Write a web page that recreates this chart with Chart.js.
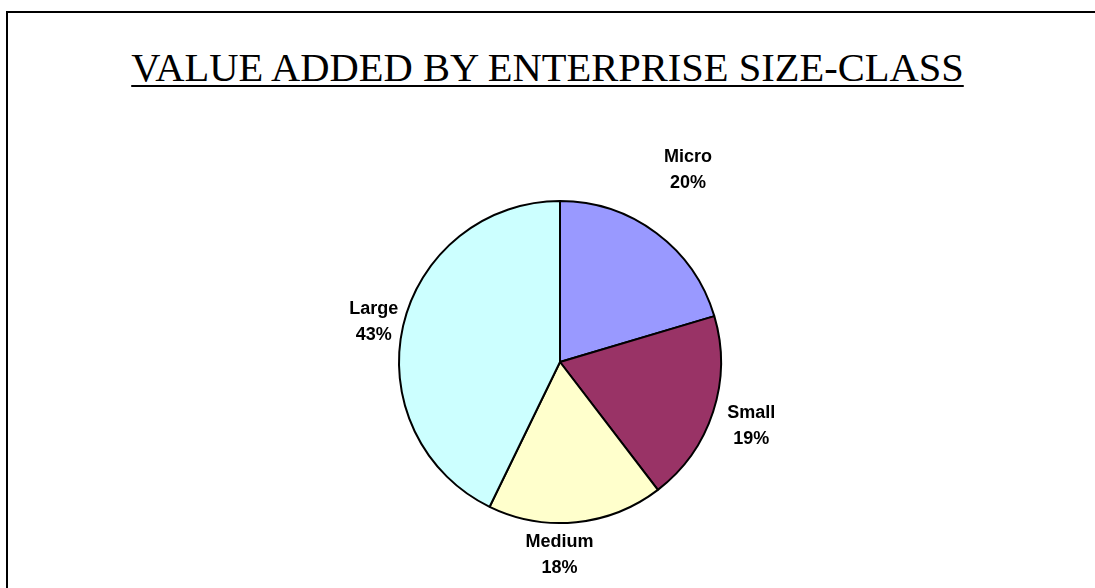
<!DOCTYPE html>
<html>
<head>
<meta charset="utf-8">
<script src="https://cdn.jsdelivr.net/npm/chart.js@4/dist/chart.umd.min.js"></script>
<style>
  html, body { margin: 0; padding: 0; background: #fff; overflow: hidden; }
  #wrap { position: relative; width: 1095px; height: 588px; }
  #frame { position: absolute; left: 6px; top: 11px; width: 1200px; height: 700px;
           border-left: 2px solid #000; border-top: 2px solid #000; }
  #title { position: absolute; left: 0; width: 1095px; top: 44px; text-align: center;
           font-family: "Liberation Serif", "Times New Roman", serif; font-size: 40.5px;
           text-decoration: underline; text-decoration-thickness: 2px; text-underline-offset: 4px; }
  canvas { position: absolute; left: 0; top: 0; }
</style>
</head>
<body>
<div id="wrap">
  <div id="frame"></div>
  <div id="title">VALUE ADDED BY ENTERPRISE SIZE-CLASS</div>
  <canvas id="pie" width="1095" height="588"></canvas>
</div>
<script>
const sizeClasses = ["Micro", "Small", "Medium", "Large"];
const valueShare = [20.4, 19.2, 17.6, 42.8];
const sliceColors = ["#9999FF", "#993366", "#FFFFCC", "#CCFFFF"];

// label placement: distance outside the rim, then a small nudge
const labelGap = [68, 40, 33, 30];
const labelNudge = [[-9, -8], [0, 2], [-20, 0], [0, 3]];

const outsideLabels = {
  id: "outsideLabels",
  afterDatasetsDraw(chart) {
    const ctx = chart.ctx;
    const meta = chart.getDatasetMeta(0);
    const total = valueShare.reduce((a, b) => a + b, 0);
    ctx.save();
    ctx.font = "bold 18px 'Liberation Sans', Arial, sans-serif";
    ctx.fillStyle = "#000";
    ctx.textAlign = "center";
    ctx.textBaseline = "middle";
    meta.data.forEach((arc, i) => {
      const p = arc.getProps(["x", "y", "startAngle", "endAngle", "outerRadius"], true);
      const mid = (p.startAngle + p.endAngle) / 2;
      const r = p.outerRadius + labelGap[i];
      const cx = p.x + Math.cos(mid) * r + labelNudge[i][0];
      const cy = p.y + Math.sin(mid) * r + labelNudge[i][1];
      const pct = Math.round(valueShare[i] / total * 100) + "%";
      ctx.fillText(sizeClasses[i], cx, cy - 13);
      ctx.fillText(pct, cx, cy + 13);
    });
    ctx.restore();
  }
};

new Chart(document.getElementById("pie").getContext("2d"), {
  type: "pie",
  data: {
    labels: sizeClasses,
    datasets: [{
      data: valueShare,
      backgroundColor: sliceColors,
      borderColor: "#000",
      borderWidth: 2
    }]
  },
  options: {
    responsive: false,
    animation: false,
    layout: { padding: { left: 398, right: 373, top: 200, bottom: 64 } },
    plugins: {
      legend: { display: false },
      tooltip: { enabled: false },
      title: { display: false }
    }
  },
  plugins: [outsideLabels]
});
</script>
</body>
</html>
